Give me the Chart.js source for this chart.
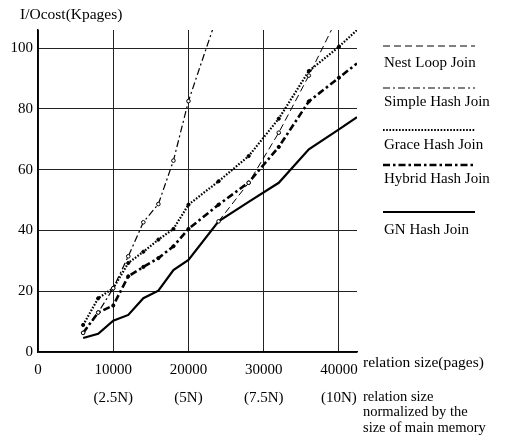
<!DOCTYPE html>
<html>
<head>
<meta charset="utf-8">
<script src="https://cdn.jsdelivr.net/npm/chart.js@4.4.0/dist/chart.umd.min.js"></script>
<style>
  html, body { margin: 0; padding: 0; background: #fff; }
  #wrap { width: 517px; height: 436px; }
</style>
</head>
<body>
<div id="wrap"><canvas id="myChart"></canvas></div>
<script>
// relation sizes (pages) where each join was measured
const sizes = [6000, 8000, 10000, 12000, 14000, 16000, 18000, 20000, 24000, 28000, 32000, 36000, 40000, 42400];

// I/O cost in Kpages, null = not plotted
const nestLoop = [null, null, null, null, null, null, null, null, 43, 55.7, 72.2, 91, 111, null];
const simpleHash = [6.3, 13, 21, 31.5, 42.7, 48.7, 63, 82.6, 112, null, null, null, null, null];
const graceHash = [8.9, 17.7, 21, 29.3, 33, 37, 40.5, 48.5, 56.2, 64.5, 76.8, 92.5, 100.5, 106];
const hybridHash = [6.3, 13, 15.3, 24.9, 28, 30.9, 34.8, 40.5, 48.5, 55.8, 67.5, 82.5, 90.3, 95];
const gnHash = [4.6, 6, 10.3, 12.2, 17.7, 20.2, 27, 30.3, 43, 49.4, 55.7, 66.7, 73.3, 77.3];

const seriesNames = ['Nest Loop Join', 'Simple Hash Join', 'Grace Hash Join', 'Hybrid Hash Join', 'GN Hash Join'];

const xTicks = [0, 10000, 20000, 30000, 40000];
const xTickNotes = ['', '(2.5N)', '(5N)', '(7.5N)', '(10N)'];
const yTicks = [0, 20, 40, 60, 80, 100];

const yTitle = 'I/Ocost(Kpages)';
const xTitle = 'relation size(pages)';
const xNote = ['relation size', 'normalized by the', 'size of main memory'];

const serif = '"Liberation Serif", "Times New Roman", serif';

const toPoints = ys => sizes.map((x, i) => ({ x, y: ys[i] })).filter(p => p.y !== null);

const styles = [
  { borderWidth: 1, borderDash: [7, 4], dot: 1.8, fill: '#fff' },
  { borderWidth: 1.2, borderDash: [7, 3, 2, 3], dot: 1.8, fill: '#fff' },
  { borderWidth: 2.2, borderDash: [1.6, 1.6], dot: 1.6, fill: '#000' },
  { borderWidth: 2.6, borderDash: [7, 3, 2.5, 3], dot: 1.6, fill: '#000' },
  { borderWidth: 2.2, borderDash: [], dot: 0, fill: '#000' }
];

const datasets = [nestLoop, simpleHash, graceHash, hybridHash, gnHash].map((ys, i) => ({
  label: seriesNames[i],
  data: toPoints(ys),
  borderColor: '#000',
  backgroundColor: '#fff',
  borderWidth: styles[i].borderWidth,
  borderDash: styles[i].borderDash,
  pointRadius: c => (c.raw && c.raw.x > 40000 ? 0 : styles[i].dot),
  pointBorderWidth: 1,
  pointBorderColor: '#000',
  pointBackgroundColor: styles[i].fill,
  tension: 0
}));

// legend on the right plus the free-standing axis texts
const sideTexts = {
  id: 'sideTexts',
  afterDraw(chart) {
    const ctx = chart.ctx;
    const lineY = [46, 88, 130, 165, 212];
    const textY = [63, 102, 145, 179, 230];
    ctx.save();
    ctx.fillStyle = '#000';
    ctx.strokeStyle = '#000';
    ctx.textBaseline = 'middle';
    ctx.textAlign = 'left';

    ctx.font = '15.5px ' + serif;
    ctx.fillText(yTitle, 20, 15);
    ctx.fillText(xTitle, 363, 363);

    ctx.font = '14.5px ' + serif;
    xNote.forEach((t, i) => ctx.fillText(t, 363, 397 + i * 15.5));

    ctx.font = '15px ' + serif;
    chart.data.datasets.forEach((ds, i) => {
      ctx.beginPath();
      ctx.setLineDash(ds.borderDash);
      ctx.lineWidth = ds.borderWidth;
      ctx.moveTo(383, lineY[i]);
      ctx.lineTo(475, lineY[i]);
      ctx.stroke();
      ctx.setLineDash([]);
      ctx.fillText(ds.label, 384, textY[i]);
    });
    ctx.restore();
  }
};

new Chart(document.getElementById('myChart'), {
  type: 'line',
  data: { datasets },
  plugins: [sideTexts],
  options: {
    responsive: true,
    maintainAspectRatio: false,
    animation: false,
    layout: { padding: { left: 0, right: 160, top: 30, bottom: 0 } },
    plugins: {
      legend: { display: false },
      tooltip: { enabled: false }
    },
    scales: {
      x: {
        type: 'linear',
        min: 0,
        max: 42400,
        afterBuildTicks: s => { s.ticks = xTicks.map(v => ({ value: v })); },
        afterFit: s => { s.height = 84; },
        grid: { color: '#222', lineWidth: 1, drawTicks: false },
        border: { color: '#000', width: 1.5 },
        ticks: {
          color: '#000',
          padding: 4,
          maxRotation: 0,
          font: { family: serif, size: 15, lineHeight: 1.87 },
          callback: v => {
            const i = xTicks.indexOf(v);
            return i > 0 ? [String(v), xTickNotes[i]] : String(v);
          }
        }
      },
      y: {
        min: 0,
        max: 106,
        afterBuildTicks: s => { s.ticks = yTicks.map(v => ({ value: v })); },
        afterFit: s => { s.width = 38; },
        grid: { color: '#222', lineWidth: 1, drawTicks: false },
        border: { color: '#000', width: 1.5 },
        ticks: {
          color: '#000',
          padding: 5,
          font: { family: serif, size: 15 }
        }
      }
    }
  }
});
</script>
</body>
</html>
